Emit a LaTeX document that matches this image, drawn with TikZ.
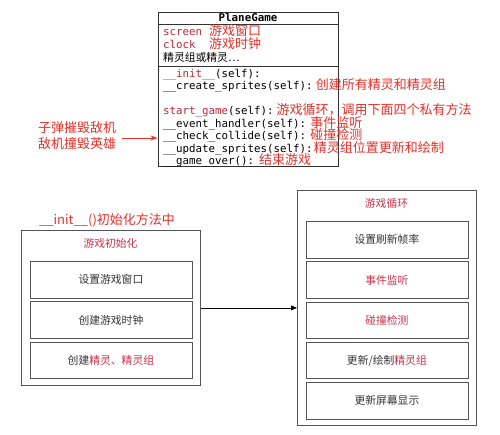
\documentclass[tikz,border=0pt]{standalone}
\usepackage{fontspec}
\setmainfont{Noto Sans CJK SC}
\setmonofont{DejaVu Sans Mono}
\usepackage{xcolor}
\usepackage{tikz}
\usetikzlibrary{arrows.meta, positioning, shadows}
\definecolor{codered}{RGB}{190,40,60}
\definecolor{notered}{RGB}{228,48,40}
\definecolor{boxred}{RGB}{200,50,75}
\definecolor{edge}{RGB}{85,85,85}
\newcommand{\note}[1]{{\rmfamily\fontsize{13}{13}\selectfont\color{notered}#1}}
\newcommand{\kw}[1]{{\color{codered}#1}}
\tikzset{
  umlbox/.style={draw=black!80, line width=0.9pt, fill=white, anchor=north west, inner sep=0pt,
    drop shadow={shadow xshift=0.8pt, shadow yshift=-0.8pt, opacity=0.35}},
  codeline/.style={anchor=base west, inner sep=0pt, font=\ttfamily\fontsize{10.8}{12}\selectfont},
  outerbox/.style={draw=edge, line width=0.8pt, minimum width=179pt, inner sep=0pt, anchor=north west},
  innerbox/.style={draw=edge, line width=0.8pt, minimum width=162pt, minimum height=36.5pt, inner sep=0pt,
    text=black!80, font=\fontsize{10.8}{12}\selectfont},
  boxtitle/.style={inner sep=0pt, text=boxred, font=\fontsize{10.8}{12}\selectfont},
  ok/.style={-{Triangle[length=6pt, width=5pt]}, line width=0.8pt},
  redok/.style={-{Stealth[length=7pt, width=5pt]}, notered, line width=0.9pt},
}

\begin{document}
\begin{tikzpicture}[x=1pt, y=-1pt]
  \useasboundingbox (0,0) rectangle (500,434);
  % PlaneGame class box
  \node[umlbox, minimum width=180pt, minimum height=154pt] (uml) at (158,12) {};
  \coordinate (sep1) at (158,24.5);
  \coordinate (sep2) at (158,66.5);
  \draw[black!80, line width=0.8pt] (sep1) -- (sep1 -| uml.east);
  \draw[black!80, line width=0.8pt] (sep2) -- (sep2 -| uml.east);
  \node[codeline, anchor=base, font=\ttfamily\bfseries\fontsize{10.8}{12}\selectfont] (cname) at (248,21.5) {PlaneGame};
  % attributes
  \node[codeline] (a1) at (163,35) {\makebox[46pt][l]{\kw{screen}}\note{游戏窗口}};
  \node[codeline] (a2) at (163,48) {\makebox[46pt][l]{\kw{clock}}\note{游戏时钟}};
  \node[codeline, font=\fontsize{10.8}{12}\selectfont] (a3) at (163,61.5) {精灵组或精灵…};
  % methods
  \node[codeline] (m1) at (163,77) {\kw{\_\_init\_\_}(self):};
  \node[codeline] (m2) at (163,89.5) {\_\_create\_sprites(self):\hspace{3pt}\note{创建所有精灵和精灵组}};
  \node[codeline] (m3) at (163,114.5) {\kw{start\_game}(self):\hspace{3pt}\note{游戏循环，调用下面四个私有方法}};
  \node[codeline] (m4) at (163,127) {\_\_event\_handler(self):\hspace{4pt}\note{事件监听}};
  \node[codeline] (m5) at (163,139.5) {\_\_check\_collide(self):\hspace{4pt}\note{碰撞检测}};
  \node[codeline] (m6) at (163,152) {\_\_update\_sprites(self):\hspace{1pt}\note{精灵组位置更新和绘制}};
  \node[codeline] (m7) at (163,164.5) {\_\_game\_over():\hspace{5pt}\note{结束游戏}};
  % collision note
  \node[font=\fontsize{13}{15.5}\selectfont, text=notered, align=center] (hit) at (77,135.5) {子弹摧毁敌机\\敌机撞毁英雄};
  \coordinate (hitend) at (157.5,138);
  \draw[redok] ([xshift=2pt]hit.east |- hitend) -- (hitend);
  % init block
  \node[text=notered, font=\fontsize{13}{13}\selectfont, inner sep=0pt] (initlabel) at (107,220) {\_\_init\_\_()初始化方法中};
  \node[outerbox, minimum height=155pt] (init) at (21,230) {};
  \node[boxtitle] (inittitle) at (110.5,243) {游戏初始化};
  \node[innerbox, below=31pt of init.north] (i1) {设置游戏窗口};
  \node[innerbox, below=3pt of i1] (i2) {创建游戏时钟};
  \node[innerbox, below=3pt of i2] (i3) {创建\textcolor{boxred}{精灵、精灵组}};
  % loop block
  \node[outerbox, minimum height=235pt] (loop) at (297,190) {};
  \node[boxtitle] (looptitle) at (386.5,203) {游戏循环};
  \node[innerbox, below=31pt of loop.north] (l1) {设置刷新帧率};
  \node[innerbox, below=3pt of l1] (l2) {\textcolor{boxred}{事件监听}};
  \node[innerbox, below=3pt of l2] (l3) {\textcolor{boxred}{碰撞检测}};
  \node[innerbox, below=3pt of l3] (l4) {更新/绘制\textcolor{boxred}{精灵组}};
  \node[innerbox, below=3pt of l4] (l5) {更新屏幕显示};
  \draw[ok] (init) -- (loop);
\end{tikzpicture}
\end{document}
